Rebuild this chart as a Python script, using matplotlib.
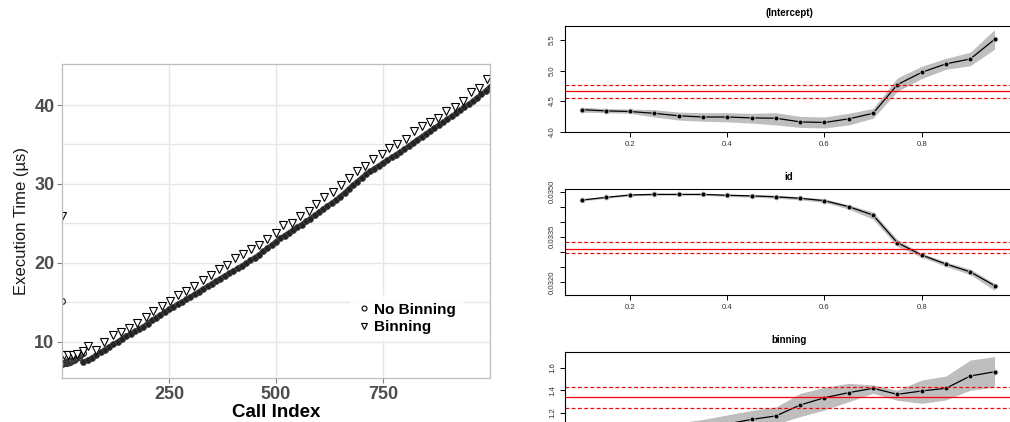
import matplotlib
matplotlib.use("Agg")
import matplotlib.pyplot as plt
from matplotlib.lines import Line2D

plt.rcParams['font.family'] = ['Liberation Sans', 'DejaVu Sans']

# ---- left panel: execution time per call ----
# first calls (warm-up cluster) and one outlier
warm_idx = [0, 3, 6, 9, 12, 15, 18, 21, 24, 27, 30, 33, 36, 39, 42, 45, 48, 0]
warm_time = [7.2, 7.3, 7.25, 7.4, 7.35, 7.5, 7.45, 7.6, 7.7, 7.65, 7.8, 7.9, 8.0, 8.1, 8.3, 8.45, 8.6, 15.2]

nobin_idx = list(range(50, 1001, 10))
nobin_time = [7.45, 7.65, 7.95, 8.3, 8.65, 9.0, 9.35, 9.65, 10.0, 10.35,
              10.7, 11.0, 11.3, 11.6, 11.9, 12.3, 12.7, 13.05, 13.4, 13.75,
              14.1, 14.4, 14.75, 15.05, 15.35, 15.7, 16.0, 16.35, 16.7, 17.0,
              17.35, 17.7, 18.0, 18.35, 18.65, 18.95, 19.3, 19.6, 19.95, 20.3,
              20.65, 21.0, 21.45, 21.85, 22.25, 22.7, 23.1, 23.45, 23.8, 24.15,
              24.5, 24.85, 25.25, 25.6, 26.0, 26.4, 26.8, 27.2, 27.55, 27.95,
              28.4, 28.85, 29.35, 29.85, 30.3, 30.75, 31.2, 31.6, 31.95, 32.3,
              32.65, 33.0, 33.35, 33.7, 34.05, 34.4, 34.8, 35.2, 35.6, 35.95,
              36.35, 36.7, 37.1, 37.45, 37.8, 38.2, 38.55, 38.95, 39.35, 39.75,
              40.1, 40.5, 40.95, 41.35, 41.8, 42.3]

bin_idx = [0, 5, 15, 25, 35, 48, 60, 79, 97, 118, 137, 157, 176, 196, 213, 233,
           252, 272, 290, 309, 329, 347, 367, 385, 404, 422, 442, 460, 480, 499,
           517, 537, 556, 576, 593, 613, 632, 651, 671, 690, 708, 727, 747, 765,
           783, 803, 822, 840, 860, 879, 897, 917, 936, 955, 974, 992]
bin_time = [25.9, 8.3, 8.3, 8.35, 8.5, 8.8, 9.4, 9.0, 10.0, 10.9, 11.2, 11.7, 12.4, 13.1, 13.9, 14.5,
            15.2, 15.9, 16.4, 17.1, 17.8, 18.4, 19.2, 19.7, 20.6, 21.1, 21.7, 22.3, 23.0, 23.8,
            24.8, 25.1, 25.9, 26.6, 27.4, 28.3, 29.0, 29.9, 30.7, 31.6, 32.3, 33.1, 33.8, 34.6,
            35.1, 35.7, 36.7, 37.3, 37.9, 38.4, 39.3, 39.8, 40.5, 41.6, 42.2, 43.3]

# ---- right panels: quantile regression coefficients ----
taus = [0.10, 0.15, 0.20, 0.25, 0.30, 0.35, 0.40, 0.45, 0.50,
        0.55, 0.60, 0.65, 0.70, 0.75, 0.80, 0.85, 0.90, 0.95]

icpt_est = [4.36, 4.34, 4.33, 4.30, 4.26, 4.24, 4.24, 4.225, 4.22, 4.16, 4.15, 4.21, 4.30, 4.77, 4.97, 5.11, 5.19, 5.51]
icpt_lo = [4.32, 4.31, 4.30, 4.24, 4.19, 4.17, 4.16, 4.14, 4.11, 4.07, 4.06, 4.11, 4.22, 4.66, 4.87, 5.02, 5.08, 5.35]
icpt_hi = [4.40, 4.38, 4.37, 4.36, 4.32, 4.31, 4.31, 4.30, 4.31, 4.25, 4.24, 4.30, 4.38, 4.88, 5.07, 5.20, 5.30, 5.67]
icpt_ols = [4.666, 4.555, 4.76]

id_est = [0.03472, 0.03481, 0.03489, 0.03491, 0.03491, 0.03491, 0.03488, 0.03486, 0.03483,
          0.03478, 0.03470, 0.03450, 0.03422, 0.03330, 0.03289, 0.03259, 0.03233, 0.03187]
id_lo = [0.03469, 0.03478, 0.03486, 0.03488, 0.03488, 0.03488, 0.03484, 0.03482, 0.03478,
         0.03473, 0.03464, 0.03442, 0.03408, 0.03318, 0.03282, 0.03251, 0.03224, 0.03171]
id_hi = [0.03475, 0.03484, 0.03492, 0.03494, 0.03494, 0.03494, 0.03492, 0.03490, 0.03488,
         0.03483, 0.03476, 0.03456, 0.03432, 0.03340, 0.03295, 0.03266, 0.03242, 0.03195]
id_ols = [0.03310, 0.032957, 0.033325]

bin_est = [0.98, 1.00, 1.01, 1.03, 1.05, 1.07, 1.10, 1.14, 1.171,
           1.268, 1.333, 1.378, 1.417, 1.363, 1.393, 1.417, 1.526, 1.564]
bin_lo = [0.90, 0.92, 0.93, 0.95, 0.97, 0.99, 1.02, 1.06, 1.10,
          1.165, 1.224, 1.298, 1.372, 1.31, 1.283, 1.313, 1.40, 1.426]
bin_hi = [1.06, 1.07, 1.08, 1.09, 1.11, 1.14, 1.18, 1.22, 1.25,
          1.372, 1.425, 1.461, 1.446, 1.40, 1.49, 1.526, 1.668, 1.698]
bin_ols = [1.337, 1.244, 1.426]

fig = plt.figure(figsize=(10.1, 4.22), dpi=100)

# left: scatter of execution times
ax = fig.add_axes([0.0614, 0.1043, 0.4238, 0.744])
ax.set_xlim(0, 1000)
ax.set_ylim(5.4, 45.2)
ax.set_xticks([250, 500, 750])
ax.set_yticks([10, 20, 30, 40])
ax.set_yticks([15, 25, 35], minor=True)
ax.grid(True, which='major', color='#E6E6E6', lw=1.0)
ax.grid(True, which='minor', axis='y', color='#E6E6E6', lw=1.0)
ax.tick_params(axis='y', which='minor', length=0)
ax.set_axisbelow(True)
for s in ax.spines.values():
    s.set_color('#BDBDBD')
    s.set_linewidth(0.9)
ax.tick_params(which='major', length=3.5, width=0.8, color='#7F7F7F', labelcolor='#4D4D4D',
               labelsize=13, pad=2)
for lab in ax.get_xticklabels() + ax.get_yticklabels():
    lab.set_fontweight('bold')

ax.plot(warm_idx, warm_time, ls='none', marker='o', ms=4.2, mfc='none', mec='#333333', mew=0.9)
ax.plot(nobin_idx, nobin_time, color='#222222', lw=3.4, marker='o', ms=4.2, mfc='#222222', mec='#444444', mew=0.6)
ax.plot(bin_idx, bin_time, ls='none', marker='v', ms=5.8, mfc='white', mec='black', mew=0.8)

ax.set_xlabel('Call Index', fontsize=13.5, fontweight='bold', color='black', labelpad=1)
ax.set_ylabel('Execution Time (µs)', fontsize=12, color='#1A1A1A', labelpad=4)

handles = [Line2D([], [], ls='none', marker='o', ms=3.5, mfc='none', mec='black', mew=0.8),
           Line2D([], [], ls='none', marker='v', ms=4, mfc='none', mec='black', mew=0.8)]
leg = ax.legend(handles, ['No Binning', 'Binning'], loc='center left', bbox_to_anchor=(0.655, 0.19),
                prop={'weight': 'bold', 'size': 11}, frameon=True, fancybox=False,
                handlelength=0.8, handletextpad=0.3, labelspacing=0.2, borderpad=0.5)
leg.get_frame().set_edgecolor('none')
leg.get_frame().set_facecolor('white')


def coef_panel(rect, est, lo, hi, ols, title, ylim, yticks, ylabels, show_x=True):
    a = fig.add_axes(rect)
    a.fill_between(taus, lo, hi, color='#BEBEBE', lw=0)
    a.plot(taus, est, color='black', lw=0.9)
    # R type="b": small gaps around the points
    a.plot(taus, est, ls='none', marker='o', ms=4.2, mfc='#BEBEBE', mec='none')
    a.plot(taus, est, ls='none', marker='o', ms=1.8, color='black')
    a.axhline(ols[0], color='red', lw=0.9)
    a.axhline(ols[1], color='red', lw=0.9, ls=(0, (3, 2)))
    a.axhline(ols[2], color='red', lw=0.9, ls=(0, (3, 2)))
    a.set_xlim(0.066, 0.988)
    a.set_ylim(*ylim)
    a.set_xticks([0.2, 0.4, 0.6, 0.8])
    if show_x:
        a.set_xticklabels(['0.2', '0.4', '0.6', '0.8'])
    else:
        a.set_xticklabels([])
    a.set_yticks(yticks)
    a.set_yticklabels(ylabels, rotation=90, va='center')
    a.tick_params(length=3.5, width=0.7, labelsize=5.6, labelcolor='#333333', pad=3)
    for s in a.spines.values():
        s.set_linewidth(0.8)
    a.set_title(title, fontsize=7, fontweight='bold', pad=7)
    return a


coef_panel([0.5594, 0.688, 0.4436, 0.2505], icpt_est, icpt_lo, icpt_hi, icpt_ols,
           '(Intercept)', (4.0, 5.73), [4.0, 4.5, 5.0, 5.5], ['4.0', '4.5', '5.0', '5.5'])
coef_panel([0.5594, 0.301, 0.4436, 0.2505], id_est, id_lo, id_hi, id_ols,
           'id', (0.03156, 0.03508),
           [0.0320, 0.0325, 0.0330, 0.0335, 0.0340, 0.0345, 0.0350],
           ['0.0320', '', '', '0.0335', '', '', '0.0350'])
# bottom panel runs past the lower edge of the figure, as in the original crop
coef_panel([0.5594, -0.0853, 0.4436, 0.2505], bin_est, bin_lo, bin_hi, bin_ols,
           'binning', (0.797, 1.737), [1.2, 1.4, 1.6], ['1.2', '1.4', '1.6'], show_x=False)

fig.savefig('out.png', dpi=100)
